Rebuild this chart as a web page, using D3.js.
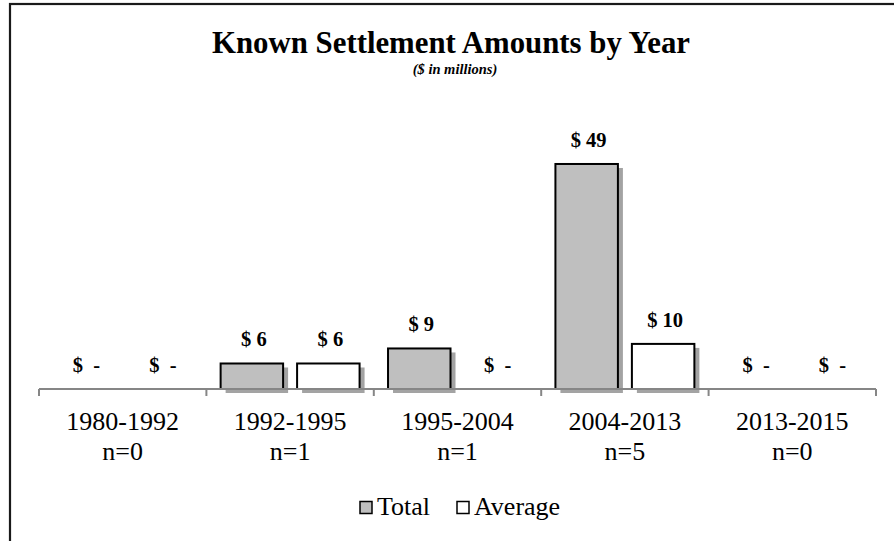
<!DOCTYPE html>
<html>
<head>
<meta charset="utf-8">
<script src="https://cdn.jsdelivr.net/npm/d3@7/dist/d3.min.js"></script>
<style>
  html, body { margin: 0; padding: 0; background: #fff; }
  svg { display: block; }
  text { font-family: "Liberation Serif", "Times New Roman", serif; fill: #000; }
</style>
</head>
<body>
<svg id="chart" width="894" height="541"></svg>
<script>
// ---- data ----
const categories = ["1980-1992", "1992-1995", "1995-2004", "2004-2013", "2013-2015"];
const counts = ["n=0", "n=1", "n=1", "n=5", "n=0"];
const seriesNames = ["Total", "Average"];
const totalValues = [0, 5.6, 8.9, 49.4, 0];
const averageValues = [0, 5.6, 0, 9.9, 0];
const titleText = "Known Settlement Amounts by Year";
const subtitleText = "($ in millions)";

const fills = { Total: "#bfbfbf", Average: "#ffffff" };

const svg = d3.select("#chart");

// chart border (cropped outer frame)
svg.append("rect")
  .attr("x", 10).attr("y", 4)
  .attr("width", 1000).attr("height", 1000)
  .attr("fill", "none").attr("stroke", "#1a1a1a").attr("stroke-width", 2.2);

// scales
const x0 = d3.scaleBand().domain(categories).range([39, 876]).padding(0);
const x1 = d3.scaleBand().domain(seriesNames).range([0, x0.bandwidth()])
  .paddingInner(0.183).paddingOuter(0.186);
const baseY = 389;
const y = d3.scaleLinear().domain([0, 50]).range([baseY, baseY - 50 * 4.555]);

const rows = categories.map((c, i) => ({
  cat: c,
  vals: [ { s: "Total", v: totalValues[i] }, { s: "Average", v: averageValues[i] } ]
}));

const g = svg.append("g");
const groups = g.selectAll("g.cat").data(rows).join("g")
  .attr("transform", d => `translate(${x0(d.cat)},0)`);

// shadows
groups.selectAll("rect.shadow").data(d => d.vals.filter(e => e.v > 0)).join("rect")
  .attr("class", "shadow")
  .attr("x", e => x1(e.s) + 5)
  .attr("y", e => y(e.v) + 4)
  .attr("width", x1.bandwidth())
  .attr("height", e => baseY - y(e.v))
  .attr("fill", "#a3a3a3");

// bars
groups.selectAll("rect.bar").data(d => d.vals.filter(e => e.v > 0)).join("rect")
  .attr("class", "bar")
  .attr("x", e => x1(e.s))
  .attr("y", e => y(e.v))
  .attr("width", x1.bandwidth())
  .attr("height", e => baseY - y(e.v))
  .attr("fill", e => fills[e.s])
  .attr("stroke", "#000").attr("stroke-width", 2);

// value labels
groups.selectAll("text.val").data(d => d.vals).join("text")
  .attr("class", "val")
  .attr("x", e => x1(e.s) + x1.bandwidth() / 2 + 2)
  .attr("y", e => y(e.v) - 17)
  .attr("text-anchor", "middle")
  .attr("font-weight", "bold")
  .attr("font-size", 20.5)
  .attr("xml:space", "preserve")
  .style("white-space", "pre")
  .text(e => e.v > 0 ? "$ " + Math.round(e.v) : "$  -");

// axis line + ticks
const axisG = svg.append("g");
axisG.append("line")
  .attr("x1", x0.range()[0]).attr("x2", x0.range()[1])
  .attr("y1", baseY).attr("y2", baseY)
  .attr("stroke", "#868686").attr("stroke-width", 2);
const tickPos = categories.map(c => x0(c)).concat([x0.range()[1]]);
axisG.selectAll("line.tick").data(tickPos).join("line")
  .attr("class", "tick")
  .attr("x1", d => d).attr("x2", d => d)
  .attr("y1", baseY).attr("y2", baseY + 7)
  .attr("stroke", "#868686").attr("stroke-width", 2);

// category labels
const catLab = axisG.selectAll("text.cat").data(categories).join("text")
  .attr("class", "cat")
  .attr("text-anchor", "middle")
  .attr("font-size", 26);
catLab.append("tspan")
  .attr("x", c => x0(c) + x0.bandwidth() / 2).attr("y", 430)
  .text(c => c);
catLab.append("tspan")
  .attr("x", c => x0(c) + x0.bandwidth() / 2).attr("y", 460)
  .text((c, i) => counts[i]);

// title
svg.append("text").attr("x", 451).attr("y", 53)
  .attr("text-anchor", "middle").attr("font-weight", "bold").attr("font-size", 30.8)
  .text(titleText);
svg.append("text").attr("x", 455).attr("y", 74)
  .attr("text-anchor", "middle").attr("font-weight", "bold").attr("font-style", "italic")
  .attr("font-size", 14.5)
  .text(subtitleText);

// legend
const legend = svg.append("g");
const legendItems = [ { s: "Total", x: 359 }, { s: "Average", x: 456 } ];
legendItems.forEach(it => {
  legend.append("rect")
    .attr("x", it.x + 1).attr("y", 501.5)
    .attr("width", 12).attr("height", 12)
    .attr("fill", fills[it.s]).attr("stroke", "#000").attr("stroke-width", 1.5);
  legend.append("text")
    .attr("x", it.x + 18).attr("y", 515)
    .attr("font-size", 26)
    .text(it.s);
});
</script>
</body>
</html>
